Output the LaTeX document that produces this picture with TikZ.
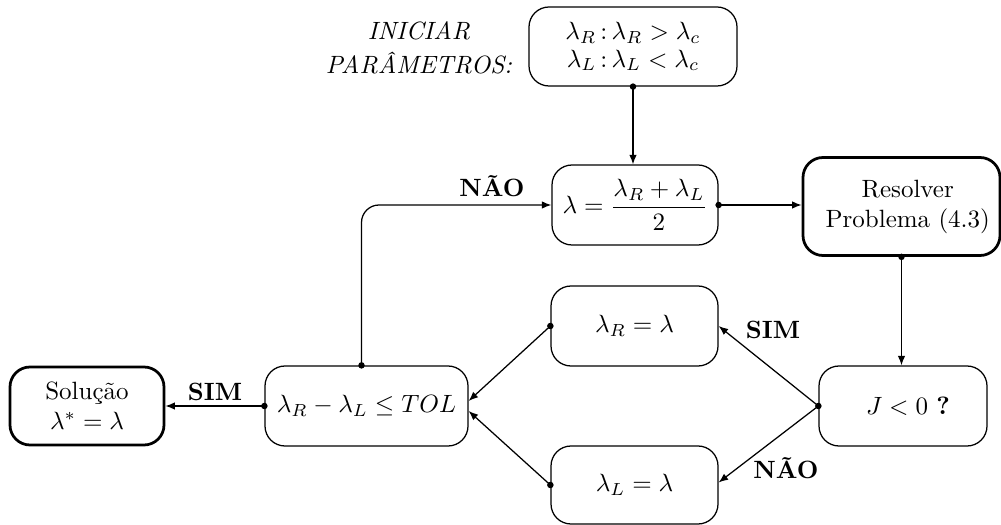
\documentclass[tikz,border=0pt]{standalone}
\usepackage{fontspec}
\usetikzlibrary{arrows.meta}
\begin{document}
\begin{tikzpicture}[x=0.4pt,y=-0.4pt,
  box/.style={draw, rounded corners=8pt, line width=0.5pt, align=center, inner sep=0pt},
  tbox/.style={box, line width=1.1pt},
  arr/.style={-{Latex[length=3.8pt,width=3pt]}, line width=0.5pt},
  dot/.style={circle, fill, inner sep=0pt, minimum size=2.6pt},
  lbl/.style={font=\bfseries}]
\useasboundingbox (0,0) rectangle (1001,525);
% nodes
\node[box, minimum width=83.2pt, minimum height=31.6pt] (init) at (633,46.5)
  {$\lambda_R\,{:}\,\lambda_R>\lambda_c$\\[-1pt] $\lambda_L\,{:}\,\lambda_L<\lambda_c$};
\node[font=\itshape, align=center] (lab) at (419,48) {INICIAR\\[1.5pt]PARÂMETROS:};
\node[box, minimum width=66.4pt, minimum height=32pt] (mid) at (635,205)
  {$\displaystyle\lambda=\frac{\lambda_R+\lambda_L}{2}$};
\node[tbox, minimum width=78.8pt, minimum height=39.2pt] (res) at (901.5,206.5)
  {\hspace*{5pt}Resolver\\\hspace*{5pt}Problema (4.3)};
\node[box, minimum width=67.2pt, minimum height=32pt] (J) at (903,406)
  {\hspace*{4pt}$J<0$ \textbf{?}};
\node[box, minimum width=66.8pt, minimum height=32pt] (lR) at (634.5,326) {$\lambda_R=\lambda$};
\node[box, minimum width=66.8pt, minimum height=31.2pt] (lL) at (634.5,485) {$\lambda_L=\lambda$};
\node[box, minimum width=81.2pt, minimum height=32pt] (tol) at (366.5,406) {$\lambda_R-\lambda_L\leq TOL$};
\node[tbox, minimum width=61.6pt, minimum height=31.2pt] (sol) at (87,406) {Solução\\$\lambda^{*}=\lambda$};
% labels
\node[lbl] (simA) at (773,330) {SIM};
\node[lbl] (naoA) at (786,468) {NÃO};
\node[lbl] (simB) at (215,392) {SIM};
\node[lbl] (naoB) at (492,186) {NÃO};
% connectors
\draw[arr] (init.south) -- (init.south |- mid.north);
\node[dot] at (init.south) {};
\draw[arr] (mid.east) -- (mid.east -| res.west);
\node[dot] at (mid.east) {};
\draw[arr] (res.south) -- (res.south |- J.north);
\node[dot] at (res.south) {};
\draw[arr] (J.west) -- (lR.east);
\draw[arr] (J.west) -- ([yshift=1pt]lL.east);
\node[dot] at (J.west) {};
\draw[arr] (lR.west) -- ([yshift=2pt]tol.east);
\node[dot] at (lR.west) {};
\draw[arr] (lL.west) -- ([yshift=-2pt]tol.east);
\node[dot] at (lL.west) {};
\draw[arr] (tol.west) -- (sol.east);
\node[dot] at (tol.west) {};
\coordinate (tolTop) at ([xshift=-2pt]tol.north);
\draw[arr, rounded corners=7pt] (tolTop) |- (mid.west);
\node[dot] at (tolTop) {};
\end{tikzpicture}
\end{document}
